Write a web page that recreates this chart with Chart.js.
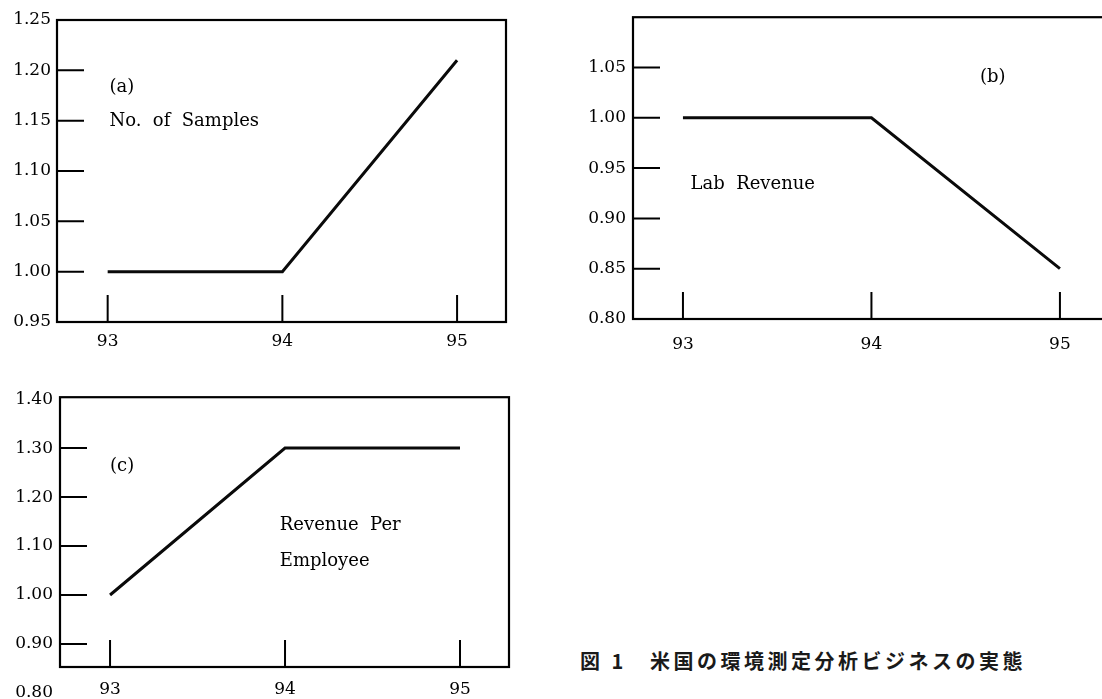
<!DOCTYPE html>
<html lang="ja">
<head>
<meta charset="utf-8">
<title>米国の環境測定分析ビジネスの実態</title>
<script src="https://cdn.jsdelivr.net/npm/chart.js@4.4.1/dist/chart.umd.min.js"></script>
<style>
  html, body { margin: 0; padding: 0; background: #fff; overflow: hidden; }
  body { width: 1102px; height: 699px; position: relative; }
  .panel { position: absolute; }
  #boxA { left: 0; top: 0; width: 520px; height: 360px; }
  #boxB { left: 560px; top: 0; width: 620px; height: 360px; }
  #boxC { left: 0; top: 380px; width: 520px; height: 319px; }
  .caption {
    position: absolute; top: 651px;
    font-family: "Noto Sans CJK JP", sans-serif; font-size: 20px; line-height: 20px;
    font-weight: bold; letter-spacing: 3.5px; color: #1a1a1a; white-space: nowrap;
  }
</style>
</head>
<body>
<div class="panel" id="boxA"><canvas id="chartA"></canvas></div>
<div class="panel" id="boxB"><canvas id="chartB"></canvas></div>
<div class="panel" id="boxC"><canvas id="chartC"></canvas></div>
<div class="caption" style="left:580px">図 1</div>
<div class="caption" style="left:650px">米国の環境測定分析ビジネスの実態</div>

<script>
// Données (indices, 93 = 1.00)
const years = [93, 94, 95];
const samples = [1.00, 1.00, 1.21];
const labRevenue = [1.00, 1.00, 0.85];
const revenuePerEmployee = [1.00, 1.30, 1.30];

// Graduations
const yTicksA = [0.95, 1.00, 1.05, 1.10, 1.15, 1.20, 1.25];
const yTicksB = [0.80, 0.85, 0.90, 0.95, 1.00, 1.05];
const yTicksC = [0.80, 0.90, 1.00, 1.10, 1.20, 1.30, 1.40];

Chart.defaults.font.family = '"DejaVu Serif", serif';
Chart.defaults.font.size = 17;
Chart.defaults.color = '#000';

// Cadre + graduations vers l'intérieur + textes du graphique
const cadrePlugin = {
    id: 'cadre',
    afterDraw(chart, args, opts) {
        const { ctx, chartArea: a, scales } = chart;
        ctx.save();
        ctx.strokeStyle = '#000';
        ctx.lineWidth = 2.2;
        ctx.strokeRect(a.left, a.top, a.right - a.left, a.bottom - a.top);

        ctx.lineWidth = 2;
        ctx.beginPath();
        scales.y.ticks.forEach(t => {
            const py = scales.y.getPixelForValue(t.value);
            if (py <= a.top + 5 || py >= a.bottom - 5) return;
            ctx.moveTo(a.left, py);
            ctx.lineTo(a.left + 27, py);
        });
        scales.x.ticks.forEach(t => {
            const px = scales.x.getPixelForValue(t.value);
            ctx.moveTo(px, a.bottom);
            ctx.lineTo(px, a.bottom - 27);
        });
        ctx.stroke();

        ctx.fillStyle = '#000';
        ctx.font = '18px "DejaVu Serif", serif';
        ctx.textBaseline = 'middle';
        ctx.textAlign = 'left';
        (opts.notes || []).forEach(n => {
            ctx.fillText(n.text, scales.x.getPixelForValue(n.x), scales.y.getPixelForValue(n.y));
        });
        ctx.restore();
    }
};

function makeChart(id, values, cfg) {
    const ctx = document.getElementById(id).getContext('2d');
    return new Chart(ctx, {
        type: 'line',
        data: {
            datasets: [{
                data: years.map((x, i) => ({ x: x, y: values[i] })),
                borderColor: '#0a0a0a',
                borderWidth: 3,
                pointRadius: 0,
                tension: 0
            }]
        },
        options: {
            responsive: true,
            maintainAspectRatio: false,
            animation: false,
            layout: { padding: cfg.padding },
            plugins: {
                legend: { display: false },
                tooltip: { enabled: false },
                cadre: { notes: cfg.notes }
            },
            scales: {
                x: {
                    type: 'linear',
                    min: cfg.xMin,
                    max: cfg.xMax,
                    grid: { display: false, drawTicks: false },
                    border: { display: false },
                    afterBuildTicks: s => { s.ticks = years.map(v => ({ value: v })); },
                    afterFit: s => { s.height = cfg.xHeight; },
                    ticks: { padding: cfg.xPad, maxRotation: 0, callback: v => String(v) }
                },
                y: {
                    min: cfg.yMin,
                    max: cfg.yMax,
                    grid: { display: false, drawTicks: false },
                    border: { display: false },
                    afterBuildTicks: s => { s.ticks = cfg.yTicks.map(v => ({ value: v })); },
                    afterFit: s => { s.width = cfg.yWidth; },
                    ticks: { padding: cfg.yPad, callback: v => Number(v).toFixed(2) }
                }
            }
        },
        plugins: [cadrePlugin]
    });
}

window.onload = function() {
    // (a) No. of Samples
    makeChart('chartA', samples, {
        padding: { top: 20, right: 14, left: 0, bottom: 0 },
        xMin: 92.71, xMax: 95.28, yMin: 0.95, yMax: 1.25,
        xHeight: 38, yWidth: 57, xPad: 9, yPad: 6,
        yTicks: yTicksA,
        notes: [
            { text: '(a)', x: 93.01, y: 1.183 },
            { text: 'No.  of  Samples', x: 93.01, y: 1.149 }
        ]
    });

    // (b) Lab Revenue — le cadre dépasse à droite
    makeChart('chartB', labRevenue, {
        padding: { top: 17, right: 0, left: 0, bottom: 0 },
        xMin: 92.735, xMax: 95.637, yMin: 0.80, yMax: 1.10,
        xHeight: 41, yWidth: 73, xPad: 15, yPad: 7,
        yTicks: yTicksB,
        notes: [
            { text: '(b)', x: 94.576, y: 1.040 },
            { text: 'Lab  Revenue', x: 93.04, y: 0.934 }
        ]
    });

    // (c) Revenue Per Employee — bas du cadre au-dessus de 0.80
    makeChart('chartC', revenuePerEmployee, {
        padding: { top: 15, right: 11, left: 0, bottom: 0 },
        xMin: 92.714, xMax: 95.28, yMin: 0.853, yMax: 1.404,
        xHeight: 32, yWidth: 60, xPad: 12, yPad: 7,
        yTicks: yTicksC,
        notes: [
            { text: '(c)', x: 93.0, y: 1.262 },
            { text: 'Revenue  Per', x: 93.97, y: 1.143 },
            { text: 'Employee', x: 93.97, y: 1.068 }
        ]
    });
};
</script>
</body>
</html>
